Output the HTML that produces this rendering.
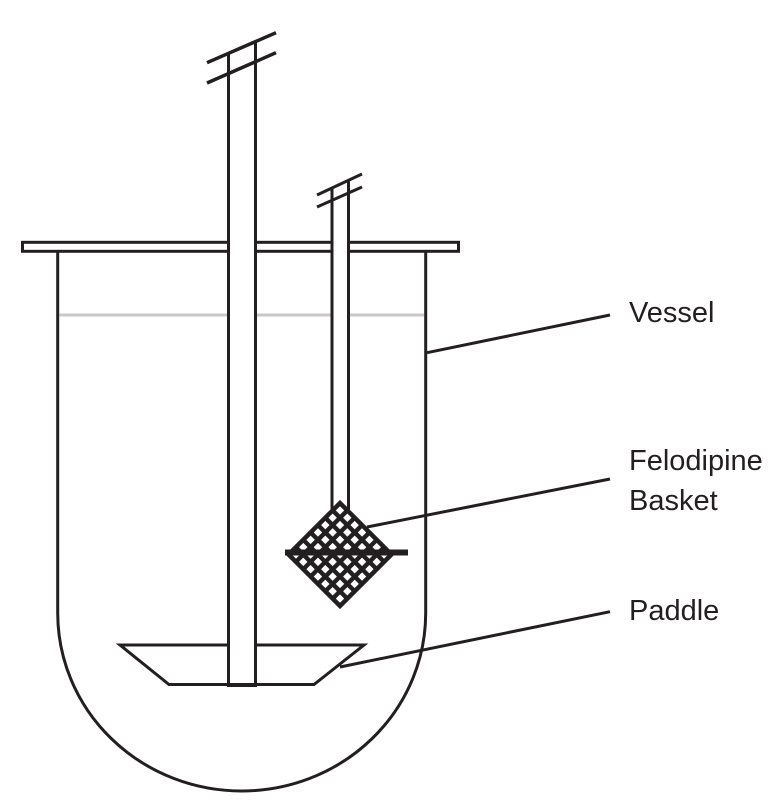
<!DOCTYPE html>
<html>
<head>
<meta charset="utf-8">
<style>
  html, body { margin: 0; padding: 0; background: #fff; }
  body { width: 783px; height: 809px; overflow: hidden; }
  svg { display: block; }
  text { font-family: "Liberation Sans", "DejaVu Sans", sans-serif; font-size: 29px; fill: #231f20; }
</style>
</head>
<body>
<svg width="783" height="809" viewBox="0 0 783 809" xmlns="http://www.w3.org/2000/svg">
  <defs>
    <pattern id="holes" patternUnits="userSpaceOnUse" x="-34.2" y="-34.2" width="10.4" height="10.4">
      <rect x="0" y="0" width="6" height="6" fill="#fff" />
    </pattern>
  </defs>
  <g stroke="#231f20" stroke-width="3" fill="none">
    <!-- Vessel body -->
    <path d="M57.7,252 V613 A184,178 0 0 0 425.7,613 V252" />
    <!-- Lid -->
    <rect x="22.5" y="242.3" width="436" height="9" fill="#fff" />
  </g>
  <!-- Water line -->
  <line x1="59.5" y1="315" x2="424" y2="315" stroke="#c8c8c8" stroke-width="3" />

  <!-- Paddle blade -->
  <polygon points="120,645 364,645 314,684.5 169,684.5" fill="none" stroke="#231f20" stroke-width="3" stroke-linejoin="miter" />

  <!-- Big shaft -->
  <rect x="230" y="55" width="24" height="629" fill="#fff" />
  <g stroke="#231f20" stroke-width="3" fill="none">
    <line x1="228.5" y1="53.6" x2="228.5" y2="685" />
    <line x1="255.5" y1="41" x2="255.5" y2="685" />
    <line x1="227" y1="685" x2="257" y2="685" stroke-width="4" />
    <line x1="207" y1="62.7" x2="276" y2="32.7" stroke-width="3.5" />
    <line x1="207" y1="83" x2="276" y2="52.7" stroke-width="3.5" />
  </g>

  <!-- Small shaft -->
  <rect x="333.5" y="190" width="13.5" height="315" fill="#fff" />
  <g stroke="#231f20" stroke-width="3" fill="none">
    <line x1="332" y1="188" x2="332" y2="510" />
    <line x1="348.5" y1="180.3" x2="348.5" y2="510" />
    <line x1="317" y1="195" x2="362" y2="174" />
    <line x1="317" y1="207" x2="362" y2="187" />
  </g>

  <!-- Basket (rotated grid) -->
  <g transform="translate(340,554.5) rotate(45)">
    <rect x="-38.6" y="-38.6" width="77.2" height="77.2" fill="#231f20" />
    <rect x="-34.2" y="-34.2" width="68.4" height="68.4" fill="url(#holes)" />
  </g>
  <!-- Basket horizontal bar -->
  <line x1="285" y1="552.5" x2="408" y2="552.5" stroke="#231f20" stroke-width="6" />

  <!-- Leader lines -->
  <g stroke="#231f20" stroke-width="3">
    <line x1="427" y1="352.7" x2="610" y2="315" />
    <line x1="367" y1="527" x2="610" y2="479" />
    <line x1="340" y1="667" x2="610" y2="611.7" />
  </g>

  <!-- Labels -->
  <text x="629" y="322">Vessel</text>
  <text x="629" y="470">Felodipine</text>
  <text x="629" y="510">Basket</text>
  <text x="629" y="620">Paddle</text>
</svg>
</body>
</html>
